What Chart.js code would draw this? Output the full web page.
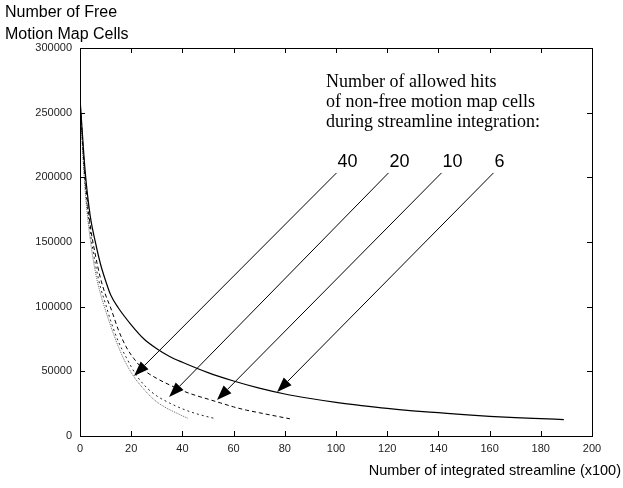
<!DOCTYPE html>
<html>
<head>
<meta charset="utf-8">
<script src="https://cdn.jsdelivr.net/npm/chart.js@4.4.0/dist/chart.umd.min.js"></script>
<style>
  html, body { margin: 0; padding: 0; background: #fff; }
  #wrap { width: 623px; height: 488px; }
</style>
</head>
<body>
<div id="wrap"><canvas id="myChart"></canvas></div>
<script>
// streamlines (x100) and free cells, one pair of arrays per hit limit
const x6 = [0, 2, 4, 6, 8, 10, 12, 15, 20, 25, 30, 35, 40, 50, 60, 70, 80, 90, 100, 110, 120, 130, 140, 150, 160, 170, 180, 189];
const free6 = [261000, 205000, 170000, 150000, 133000, 120000, 109000, 99000, 86000, 75000, 67500, 61500, 57000, 49000, 42500, 37000, 32500, 29000, 26000, 23500, 21300, 19500, 18000, 16500, 15200, 14200, 13400, 12700];

const x10 = [0, 2, 4, 6, 8, 10, 12, 15, 18, 21, 25, 30, 35, 40, 45, 50, 55, 60, 65, 70, 75, 82];
const free10 = [260000, 200000, 163000, 140000, 122000, 109000, 99000, 82000, 69000, 60000, 51000, 44500, 39500, 35000, 31500, 28500, 25500, 22500, 20000, 18000, 16000, 13300];

const x20 = [0, 2, 4, 6, 8, 10, 12, 15, 18, 22, 26, 30, 35, 40, 45, 53];
const free20 = [258000, 195000, 158000, 133000, 115000, 102000, 89000, 73000, 61000, 47000, 37500, 31000, 25500, 21000, 17500, 13300];

const x40 = [0, 2, 4, 6, 8, 10, 12, 15, 18, 21, 25, 29, 33, 38, 42];
const free40 = [256000, 190000, 152000, 127000, 110000, 97000, 85000, 69000, 56000, 46000, 36000, 28000, 22500, 17500, 13800];

const hitLabels = ["40", "20", "10", "6"];
// arrow tails and heads in data units
const arrowTail = [[100.2, 203400], [120.5, 203400], [141.2, 203400], [161.5, 203400]];
const arrowHead = [[21.1, 46400], [34.8, 30200], [53.5, 27800], [77, 34000]];

const noteLines = [
  "Number of allowed hits",
  "of non-free motion map cells",
  "during streamline integration:",
];

const pts = (xs, ys) => xs.map((v, i) => ({ x: v, y: ys[i] }));

const frame = {
  id: "frame",
  afterDraw(chart) {
    const { ctx, chartArea: a, scales } = chart;
    const sx = scales.x, sy = scales.y;
    ctx.save();
    ctx.strokeStyle = "#000";
    ctx.lineWidth = 1;
    ctx.setLineDash([]);
    ctx.strokeRect(a.left + 0.5, a.top + 0.5, a.right - a.left, a.bottom - a.top);

    // inward ticks on all four sides
    ctx.beginPath();
    sx.ticks.forEach(t => {
      const px = Math.round(sx.getPixelForValue(t.value)) + 0.5;
      ctx.moveTo(px, a.bottom); ctx.lineTo(px, a.bottom - 5);
      ctx.moveTo(px, a.top); ctx.lineTo(px, a.top + 5);
    });
    sy.ticks.forEach(t => {
      const py = Math.round(sy.getPixelForValue(t.value)) + 0.5;
      ctx.moveTo(a.left, py); ctx.lineTo(a.left + 5, py);
      ctx.moveTo(a.right, py); ctx.lineTo(a.right - 5, py);
    });
    ctx.stroke();

    // arrows
    ctx.fillStyle = "#000";
    arrowTail.forEach((tl, i) => {
      const x1 = sx.getPixelForValue(tl[0]), y1 = sy.getPixelForValue(tl[1]);
      const x2 = sx.getPixelForValue(arrowHead[i][0]), y2 = sy.getPixelForValue(arrowHead[i][1]);
      const ang = Math.atan2(y2 - y1, x2 - x1);
      const len = 15, hw = 5.5;
      const bx = x2 - len * Math.cos(ang), by = y2 - len * Math.sin(ang);
      ctx.beginPath();
      ctx.moveTo(x1, y1); ctx.lineTo(bx, by);
      ctx.stroke();
      ctx.beginPath();
      ctx.moveTo(x2, y2);
      ctx.lineTo(bx + hw * Math.sin(ang), by - hw * Math.cos(ang));
      ctx.lineTo(bx - hw * Math.sin(ang), by + hw * Math.cos(ang));
      ctx.closePath();
      ctx.fill();
      ctx.font = "18px 'Liberation Sans', Arial, sans-serif";
      ctx.textAlign = "left";
      ctx.textBaseline = "alphabetic";
      ctx.fillText(hitLabels[i], x1 + 1, y1 - 6);
    });

    ctx.font = "18px 'Liberation Serif', 'Times New Roman', serif";
    ctx.textAlign = "left";
    noteLines.forEach((s, i) => ctx.fillText(s, 326, 87 + i * 20));

    ctx.font = "16px 'Liberation Sans', Arial, sans-serif";
    ctx.fillText("Number of Free", 5, 17);
    ctx.fillText("Motion Map Cells", 5, 39);
    ctx.font = "14.5px 'Liberation Sans', Arial, sans-serif";
    ctx.textAlign = "right";
    ctx.fillText("Number of integrated streamline (x100)", 621, 475);
    ctx.restore();
  }
};

const ctx = document.getElementById("myChart");
const myChart = new Chart(ctx, {
  type: "line",
  data: {
    datasets: [
      { label: "6", data: pts(x6, free6), borderColor: "#000", borderWidth: 1.2 },
      { label: "10", data: pts(x10, free10), borderColor: "#000", borderWidth: 1, borderDash: [4, 3] },
      { label: "20", data: pts(x20, free20), borderColor: "#222", borderWidth: 1, borderDash: [2, 3] },
      { label: "40", data: pts(x40, free40), borderColor: "#666", borderWidth: 1, borderDash: [1, 1] },
    ],
  },
  options: {
    responsive: true,
    maintainAspectRatio: false,
    animation: false,
    layout: { padding: { top: 48, right: 31, left: 0, bottom: 0 } },
    elements: { point: { radius: 0 }, line: { cubicInterpolationMode: "monotone" } },
    plugins: { legend: { display: false }, tooltip: { enabled: false } },
    scales: {
      x: {
        type: "linear",
        min: 0, max: 200,
        afterFit(s) { s.height = 52; },
        grid: { display: false, drawTicks: false },
        border: { display: false },
        ticks: { stepSize: 20, padding: 6, color: "#222", font: { family: "'Liberation Sans', Arial", size: 11 } },
      },
      y: {
        min: 0, max: 300000,
        afterFit(s) { s.width = 80; },
        grid: { display: false, drawTicks: false },
        border: { display: false },
        ticks: {
          stepSize: 50000, padding: 8, color: "#222",
          font: { family: "'Liberation Sans', Arial", size: 11 },
          callback: v => String(v),
        },
      },
    },
  },
  plugins: [frame],
});
</script>
</body>
</html>
